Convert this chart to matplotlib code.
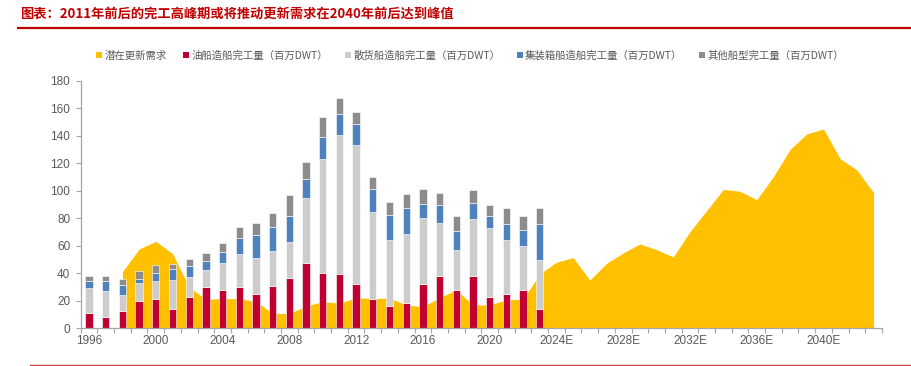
import matplotlib
matplotlib.use("Agg")
import matplotlib.pyplot as plt
from matplotlib.lines import Line2D
import numpy as np

plt.rcParams["font.family"] = ["Liberation Sans", "Noto Sans CJK SC", "DejaVu Sans"]

# ---- data ----
years = [str(y) for y in range(1996, 2024)] + [f"{y}E" for y in range(2024, 2044)]
oil = [11.4, 8.2, 12.8, 20.1, 21.3, 14.3, 23.0, 30.0, 27.9, 30.0, 25.0, 30.8, 36.3, 47.7,
       40.5, 39.7, 32.2, 21.1, 16.0, 18.7, 32.5, 37.8, 27.9, 38.0, 23.0, 25.2, 27.9, 14.3]
bulk = [17.6, 19.2, 11.7, 12.6, 13.3, 20.6, 14.6, 12.2, 19.6, 23.8, 26.1, 25.7, 26.7, 46.8,
        82.3, 101.1, 101.1, 63.5, 48.5, 49.6, 47.7, 38.5, 28.8, 41.7, 49.7, 38.8, 32.2, 35.6]
container = [5.6, 7.2, 7.2, 3.4, 5.9, 8.0, 8.0, 7.0, 8.2, 12.1, 17.0, 17.2, 18.9, 13.8,
             16.5, 14.8, 15.0, 16.4, 17.6, 18.9, 10.2, 13.1, 14.3, 11.7, 9.2, 11.9, 11.6, 26.2]
other = [3.7, 3.4, 4.2, 5.6, 5.5, 3.9, 4.8, 5.8, 6.3, 7.5, 8.5, 10.1, 14.8, 12.9,
         14.3, 11.8, 9.0, 8.8, 10.0, 10.5, 10.9, 9.2, 10.9, 8.9, 7.5, 11.3, 10.2, 11.6]
# potential replacement demand, 1998 - 2043E
demand_start = "1998"
demand = [41.2, 57.7, 63.2, 54.3, 30.0, 21.0, 21.6, 21.6, 19.4, 10.9, 10.7, 16.2, 19.4, 18.2,
          22.3, 21.6, 22.0, 17.0, 15.7, 22.3, 27.9, 17.0, 17.0, 20.6, 21.1, 39.5, 48.0, 51.4,
          35.1, 47.2, 54.8, 61.3, 57.2, 51.9, 70.3, 85.5, 101.0, 99.6, 93.5, 110.3, 130.1,
          141.3, 144.9, 123.3, 115.1, 98.6]

labels = ["潜在更新需求", "油船造船完工量（百万DWT）", "散货船造船完工量（百万DWT）",
          "集装箱船造船完工量（百万DWT）", "其他船型完工量（百万DWT）"]
colors = ["#FFC000", "#C00030", "#CCCCCC", "#4F81BD", "#8C8C8C"]

fig = plt.figure(figsize=(9.12, 3.66), dpi=100)
ax = fig.add_axes([0.0885, 0.103, 0.8785, 0.6765])

x_all = np.arange(len(years))
x_bar = np.arange(len(oil))
i0 = years.index(demand_start)
x_dem = x_all[i0:i0 + len(demand)]

ax.fill_between(x_dem, 0, demand, color=colors[0], linewidth=0, zorder=1)

bw = 0.44
bottom = np.zeros(len(oil))
for vals, c in zip([oil, bulk, container, other], colors[1:]):
    ax.bar(x_bar, vals, bw, bottom=bottom, color=c, edgecolor="white", linewidth=0.4, zorder=2)
    bottom += np.array(vals)

ax.set_xlim(-0.5, len(years) - 0.5)
ax.set_ylim(0, 180)
ax.set_yticks(np.arange(0, 181, 20))

ax.set_xticks(x_all[::4])
ax.set_xticklabels(years[::4])
ax.set_xticks(np.arange(-0.5, len(years), 1), minor=True)
ax.tick_params(axis="x", which="major", length=0, pad=5, labelsize=8.5, labelcolor="#595959")
ax.tick_params(axis="x", which="minor", length=3.5, color="#A6A6A6", width=0.8)
ax.tick_params(axis="y", length=3.5, color="#A6A6A6", width=0.8, labelsize=8.5,
               labelcolor="#595959", pad=4)

ax.spines[["top", "right"]].set_visible(False)
for s in ["left", "bottom"]:
    ax.spines[s].set_color("#A6A6A6")
    ax.spines[s].set_linewidth(0.9)

handles = [Line2D([], [], marker="s", linestyle="none", markersize=5, markerfacecolor=c,
                  markeredgewidth=0) for c in colors]
fig.legend(handles, labels, loc="center left", bbox_to_anchor=(0.104, 0.848), ncol=5,
           frameon=False, handletextpad=0.1, columnspacing=1.5,
           handlelength=0.8, labelcolor="#595959", borderaxespad=0, borderpad=0,
           prop={"family": ["Noto Sans CJK SC", "DejaVu Sans"], "size": 7.5})

fig.text(0.022, 0.962, "图表：2011年前后的完工高峰期或将推动更新需求在2040年前后达到峰值",
         color="#C00000", fontsize=9.5, fontweight="bold", style="italic",
         family=["Noto Sans CJK SC", "DejaVu Sans"], va="center", ha="left")
fig.add_artist(Line2D([0.02, 1.0], [0.923, 0.923], color="#C00000", linewidth=1.6))
fig.add_artist(Line2D([0.033, 1.0], [0.003, 0.003], color="#D04040", linewidth=1.0))

fig.savefig("out.png", dpi=100)
